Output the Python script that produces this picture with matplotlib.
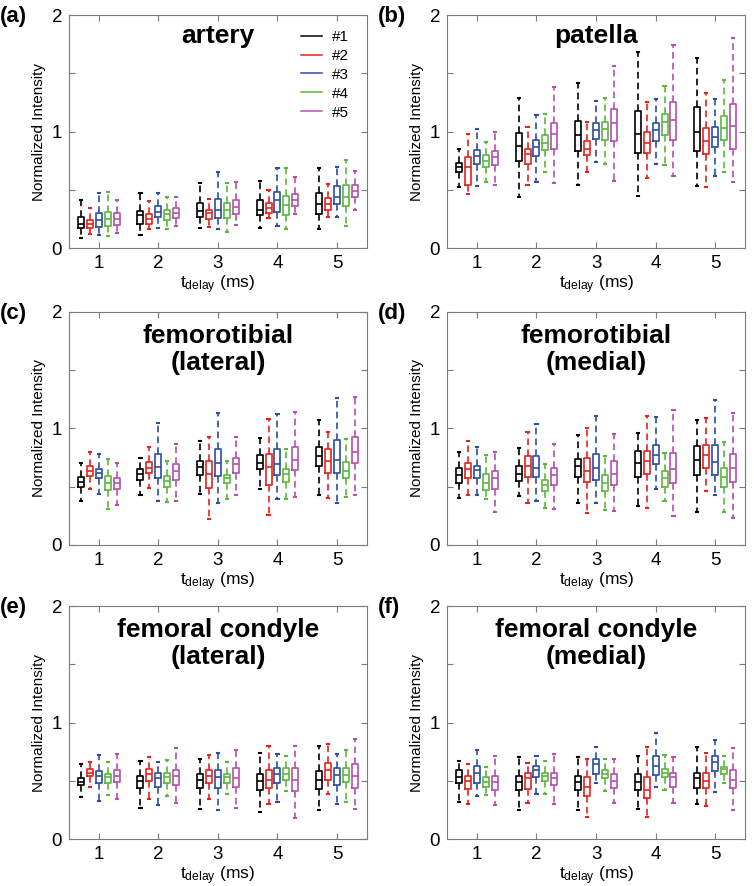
import numpy as np
import matplotlib
matplotlib.use("Agg")
import matplotlib.pyplot as plt

plt.rcParams['font.family'] = ['Liberation Sans', 'DejaVu Sans']

delays = [1, 2, 3, 4, 5]
subjects = ['#1', '#2', '#3', '#4', '#5']
colors = ['#000000', '#e8211d', '#2b4ea2', '#5cb83b', '#b54fae']
panel_labels = ['(a)', '(b)', '(c)', '(d)', '(e)', '(f)']
titles = ['artery', 'patella', 'femorotibial\n(lateral)', 'femorotibial\n(medial)',
          'femoral condyle\n(lateral)', 'femoral condyle\n(medial)']

# rows = delay 1..5, columns = subject #1..#5
artery_lo = [[0.09, 0.12, 0.11, 0.10, 0.13], [0.11, 0.16, 0.17, 0.16, 0.19], [0.17, 0.18, 0.16, 0.14, 0.20],
             [0.17, 0.26, 0.19, 0.16, 0.29], [0.16, 0.27, 0.27, 0.19, 0.33]]
artery_q1 = [[0.17, 0.17, 0.18, 0.19, 0.20], [0.21, 0.21, 0.27, 0.24, 0.26], [0.27, 0.25, 0.26, 0.26, 0.29],
             [0.28, 0.30, 0.31, 0.28, 0.36], [0.29, 0.33, 0.38, 0.36, 0.44]]
artery_med = [[0.21, 0.21, 0.24, 0.25, 0.25], [0.28, 0.25, 0.31, 0.29, 0.30], [0.32, 0.30, 0.33, 0.33, 0.35],
              [0.33, 0.34, 0.41, 0.37, 0.41], [0.38, 0.38, 0.44, 0.44, 0.49]]
artery_q3 = [[0.27, 0.24, 0.30, 0.31, 0.30], [0.32, 0.29, 0.36, 0.33, 0.34], [0.39, 0.33, 0.42, 0.39, 0.41],
             [0.41, 0.39, 0.48, 0.45, 0.46], [0.47, 0.43, 0.53, 0.54, 0.54]]
artery_hi = [[0.41, 0.34, 0.47, 0.48, 0.41], [0.47, 0.40, 0.47, 0.44, 0.44], [0.56, 0.42, 0.65, 0.56, 0.57],
             [0.58, 0.50, 0.69, 0.69, 0.61], [0.69, 0.55, 0.70, 0.76, 0.66]]

patella_lo = [[0.52, 0.46, 0.53, 0.57, 0.54], [0.44, 0.54, 0.57, 0.65, 0.56], [0.54, 0.65, 0.74, 0.72, 0.58],
              [0.45, 0.60, 0.72, 0.71, 0.62], [0.53, 0.52, 0.62, 0.65, 0.57]]
patella_q1 = [[0.65, 0.54, 0.72, 0.70, 0.71], [0.75, 0.72, 0.79, 0.84, 0.85], [0.83, 0.80, 0.94, 0.93, 0.92],
              [0.82, 0.82, 0.92, 0.97, 0.93], [0.83, 0.81, 0.87, 0.93, 0.85]]
patella_med = [[0.70, 0.70, 0.79, 0.75, 0.78], [0.88, 0.81, 0.87, 0.90, 0.98], [0.97, 0.85, 1.01, 1.02, 1.07],
               [0.98, 0.90, 1.01, 1.08, 1.10], [1.00, 0.92, 0.95, 1.03, 1.05]]
patella_q3 = [[0.73, 0.78, 0.84, 0.80, 0.83], [0.99, 0.85, 0.93, 0.97, 1.07], [1.09, 0.92, 1.07, 1.08, 1.19],
              [1.18, 1.00, 1.07, 1.15, 1.25], [1.21, 1.03, 1.04, 1.13, 1.24]]
patella_hi = [[0.85, 0.98, 1.02, 0.91, 1.00], [1.29, 1.04, 1.14, 1.15, 1.38], [1.42, 1.08, 1.26, 1.29, 1.56],
              [1.68, 1.25, 1.28, 1.39, 1.74], [1.63, 1.33, 1.28, 1.44, 1.80]]

ftl_lo = [[0.38, 0.48, 0.44, 0.31, 0.34], [0.43, 0.49, 0.38, 0.37, 0.38], [0.44, 0.22, 0.36, 0.39, 0.43],
          [0.48, 0.26, 0.39, 0.39, 0.41], [0.43, 0.40, 0.36, 0.41, 0.43]]
ftl_q1 = [[0.50, 0.59, 0.57, 0.47, 0.48], [0.56, 0.62, 0.57, 0.50, 0.56], [0.60, 0.49, 0.59, 0.53, 0.62],
          [0.65, 0.51, 0.60, 0.54, 0.64], [0.68, 0.62, 0.62, 0.57, 0.70]]
ftl_med = [[0.54, 0.63, 0.62, 0.53, 0.53], [0.61, 0.66, 0.67, 0.55, 0.63], [0.67, 0.61, 0.70, 0.57, 0.69],
           [0.70, 0.67, 0.69, 0.61, 0.73], [0.76, 0.72, 0.73, 0.63, 0.80]]
ftl_q3 = [[0.58, 0.68, 0.65, 0.59, 0.57], [0.65, 0.71, 0.78, 0.59, 0.69], [0.72, 0.72, 0.82, 0.60, 0.75],
          [0.77, 0.78, 0.82, 0.65, 0.84], [0.84, 0.82, 0.90, 0.71, 0.93]]
ftl_hi = [[0.70, 0.80, 0.78, 0.74, 0.70], [0.75, 0.84, 1.05, 0.72, 0.87], [0.89, 0.93, 1.13, 0.72, 0.93],
          [0.92, 1.08, 1.12, 0.82, 1.14], [1.07, 0.97, 1.26, 0.91, 1.27]]

ftm_lo = [[0.40, 0.43, 0.43, 0.39, 0.28], [0.42, 0.36, 0.38, 0.32, 0.31], [0.36, 0.27, 0.36, 0.30, 0.29],
          [0.33, 0.32, 0.48, 0.38, 0.25], [0.28, 0.46, 0.43, 0.28, 0.23]]
ftm_q1 = [[0.53, 0.57, 0.57, 0.47, 0.48], [0.55, 0.58, 0.58, 0.46, 0.51], [0.58, 0.54, 0.56, 0.46, 0.51],
          [0.58, 0.61, 0.69, 0.50, 0.53], [0.60, 0.66, 0.60, 0.50, 0.54]]
ftm_med = [[0.60, 0.65, 0.64, 0.53, 0.57], [0.61, 0.68, 0.66, 0.51, 0.60], [0.68, 0.63, 0.66, 0.53, 0.61],
           [0.70, 0.72, 0.77, 0.57, 0.65], [0.73, 0.77, 0.71, 0.58, 0.66]]
ftm_q3 = [[0.66, 0.70, 0.68, 0.61, 0.63], [0.68, 0.76, 0.76, 0.56, 0.66], [0.74, 0.75, 0.78, 0.60, 0.72],
          [0.81, 0.81, 0.86, 0.63, 0.79], [0.85, 0.86, 0.86, 0.66, 0.78]]
ftm_hi = [[0.80, 0.89, 0.84, 0.77, 0.80], [0.83, 0.97, 1.04, 0.69, 0.87], [0.94, 1.00, 1.11, 0.76, 0.95],
          [0.96, 1.11, 1.10, 0.79, 1.16], [1.07, 1.09, 1.24, 0.88, 1.13]]

fcl_lo = [[0.36, 0.45, 0.33, 0.38, 0.34], [0.27, 0.34, 0.29, 0.37, 0.31], [0.26, 0.34, 0.25, 0.39, 0.27],
          [0.23, 0.30, 0.32, 0.41, 0.18], [0.25, 0.39, 0.30, 0.32, 0.26]]
fcl_q1 = [[0.46, 0.54, 0.48, 0.48, 0.49], [0.44, 0.50, 0.45, 0.48, 0.46], [0.44, 0.48, 0.44, 0.48, 0.45],
          [0.42, 0.44, 0.48, 0.51, 0.41], [0.43, 0.51, 0.46, 0.49, 0.44]]
fcl_med = [[0.49, 0.57, 0.54, 0.53, 0.54], [0.50, 0.56, 0.52, 0.53, 0.54], [0.51, 0.54, 0.53, 0.53, 0.52],
           [0.50, 0.51, 0.56, 0.56, 0.51], [0.51, 0.59, 0.55, 0.55, 0.54]]
fcl_q3 = [[0.52, 0.60, 0.58, 0.56, 0.59], [0.54, 0.60, 0.57, 0.57, 0.59], [0.56, 0.59, 0.59, 0.56, 0.61],
          [0.56, 0.59, 0.61, 0.61, 0.61], [0.58, 0.65, 0.61, 0.61, 0.64]]
fcl_hi = [[0.64, 0.66, 0.72, 0.66, 0.73], [0.67, 0.70, 0.66, 0.68, 0.78], [0.69, 0.72, 0.74, 0.66, 0.76],
          [0.74, 0.80, 0.73, 0.71, 0.80], [0.80, 0.82, 0.73, 0.76, 0.86]]

fcm_lo = [[0.32, 0.30, 0.37, 0.38, 0.29], [0.25, 0.31, 0.39, 0.39, 0.30], [0.25, 0.19, 0.48, 0.41, 0.31],
          [0.26, 0.19, 0.45, 0.42, 0.31], [0.30, 0.28, 0.40, 0.48, 0.25]]
fcm_q1 = [[0.48, 0.43, 0.48, 0.45, 0.42], [0.42, 0.43, 0.53, 0.50, 0.46], [0.42, 0.37, 0.56, 0.52, 0.44],
          [0.42, 0.35, 0.55, 0.53, 0.45], [0.44, 0.44, 0.58, 0.56, 0.44]]
fcm_med = [[0.53, 0.50, 0.57, 0.49, 0.49], [0.49, 0.52, 0.59, 0.54, 0.52], [0.49, 0.45, 0.64, 0.56, 0.50],
           [0.49, 0.42, 0.63, 0.57, 0.53], [0.52, 0.50, 0.66, 0.60, 0.51]]
fcm_q3 = [[0.59, 0.54, 0.63, 0.53, 0.54], [0.54, 0.57, 0.63, 0.57, 0.57], [0.54, 0.53, 0.69, 0.59, 0.56],
          [0.56, 0.53, 0.71, 0.60, 0.57], [0.57, 0.57, 0.71, 0.62, 0.59]]
fcm_hi = [[0.67, 0.64, 0.76, 0.62, 0.71], [0.70, 0.65, 0.71, 0.67, 0.73], [0.70, 0.69, 0.79, 0.69, 0.69],
          [0.71, 0.79, 0.91, 0.72, 0.70], [0.79, 0.74, 0.85, 0.71, 0.78]]

panels = [
    (artery_lo, artery_q1, artery_med, artery_q3, artery_hi),
    (patella_lo, patella_q1, patella_med, patella_q3, patella_hi),
    (ftl_lo, ftl_q1, ftl_med, ftl_q3, ftl_hi),
    (ftm_lo, ftm_q1, ftm_med, ftm_q3, ftm_hi),
    (fcl_lo, fcl_q1, fcl_med, fcl_q3, fcl_hi),
    (fcm_lo, fcm_q1, fcm_med, fcm_q3, fcm_hi),
]

offsets = [-0.3, -0.15, 0.0, 0.15, 0.3]
frame_col = '#7a7a7a'

fig = plt.figure(figsize=(7.54, 8.86), dpi=100)
lefts = [0.0915, 0.593]
bottoms = [0.720, 0.385, 0.053]
w, h = 0.395, 0.263

for k, (lo, q1, med, q3, hi) in enumerate(panels):
    ax = fig.add_axes([lefts[k % 2], bottoms[k // 2], w, h])
    lo, q1, med, q3, hi = map(np.array, (lo, q1, med, q3, hi))
    for s in range(5):
        stats = []
        for d in range(5):
            stats.append(dict(whislo=lo[d, s], q1=q1[d, s], med=med[d, s], q3=q3[d, s],
                              whishi=hi[d, s], fliers=[]))
        pos = np.array(delays) + offsets[s]
        c = colors[s]
        ax.bxp(stats, positions=pos, widths=0.1, showfliers=False, manage_ticks=False,
               capwidths=0.035,
               boxprops=dict(color=c, linewidth=1.2),
               medianprops=dict(color=c, linewidth=1.2),
               whiskerprops=dict(color=c, linewidth=1.2, linestyle=(0, (4, 2.5))),
               capprops=dict(color=c, linewidth=1.5))
    ax.set_xlim(0.5, 5.5)
    ax.set_ylim(0, 2)
    ax.set_xticks(delays)
    ax.set_yticks([0, 0.5, 1, 1.5, 2])
    ax.set_yticklabels(['0', '', '1', '', '2'])
    ax.tick_params(direction='in', top=True, right=True, length=4, color=frame_col,
                   labelsize=13.5, pad=5)
    for sp in ax.spines.values():
        sp.set_color(frame_col)
    ax.set_ylabel('Normalized Intensity', fontsize=11, labelpad=4)
    ax.set_xlabel(r'$\mathregular{t_{delay}}$ (ms)', fontsize=12.5, labelpad=1)
    title = titles[k]
    if '\n' in title:
        ax.text(0.5, 0.84, title, transform=ax.transAxes, ha='center', va='center',
                fontsize=19, fontweight='bold', linespacing=1.15)
    else:
        ax.text(0.5, 0.91, title, transform=ax.transAxes, ha='center', va='center',
                fontsize=19, fontweight='bold')
    fig.text(lefts[k % 2] - 0.092, bottoms[k // 2] + h - 0.002, panel_labels[k],
             ha='left', va='center', fontsize=16, fontweight='bold')
    if k == 0:
        handles = [plt.Line2D([], [], color=c, linewidth=1.1) for c in colors]
        ax.legend(handles, subjects, loc='upper right', bbox_to_anchor=(0.985, 0.995),
                  frameon=False, fontsize=11, handlelength=1.4, handletextpad=0.6,
                  labelspacing=0.32)

fig.savefig('out.png', dpi=100)
